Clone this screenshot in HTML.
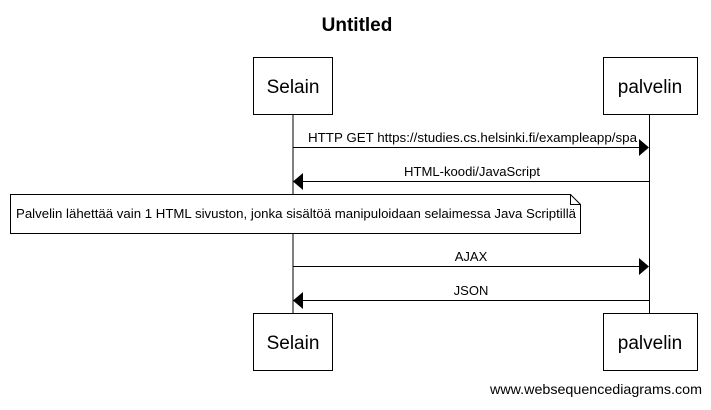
<!DOCTYPE html>
<html><head><meta charset="utf-8"><style>
body{margin:0;background:#fff;}
</style></head><body>
<svg width="711" height="405" xmlns="http://www.w3.org/2000/svg" font-family="Liberation Sans, Arial, sans-serif">
<rect width="711" height="405" fill="#fff"/>
<text x="357" y="31" text-anchor="middle" font-size="19" font-weight="bold">Untitled</text>
<line x1="293" y1="114" x2="293" y2="313" stroke="#000"/>
<line x1="649.5" y1="114" x2="649.5" y2="313" stroke="#000"/>
<rect x="253.5" y="57.5" width="79" height="57" fill="#fff" stroke="#000"/>
<text x="293" y="93" text-anchor="middle" font-size="19">Selain</text>
<rect x="603.5" y="57.5" width="94" height="57" fill="#fff" stroke="#000"/>
<text x="650" y="93" text-anchor="middle" font-size="19">palvelin</text>
<rect x="253.5" y="313.5" width="79" height="57" fill="#fff" stroke="#000"/>
<text x="293" y="349" text-anchor="middle" font-size="19">Selain</text>
<rect x="603.5" y="313.5" width="94" height="57" fill="#fff" stroke="#000"/>
<text x="650" y="349" text-anchor="middle" font-size="19">palvelin</text>
<line x1="293" y1="147.5" x2="640" y2="147.5" stroke="#000"/>
<polygon points="649,147.5 639,139 639,156" fill="#000"/>
<text x="308" y="142" font-size="13" textLength="329" lengthAdjust="spacingAndGlyphs">HTTP GET https://studies.cs.helsinki.fi/exampleapp/spa</text>
<line x1="302" y1="181.5" x2="649" y2="181.5" stroke="#000"/>
<polygon points="293,181.5 303,173 303,190" fill="#000"/>
<text x="404" y="176" font-size="13" textLength="136" lengthAdjust="spacingAndGlyphs">HTML-koodi/JavaScript</text>
<path d="M10.5 194.5 H570.5 L580.5 204.5 V233.5 H10.5 Z" fill="#fff" stroke="#000"/>
<path d="M570.5 194.5 V204.5 H580.5" fill="none" stroke="#000"/>
<text x="16" y="218" font-size="13" textLength="560" lengthAdjust="spacingAndGlyphs">Palvelin lähettää vain 1 HTML sivuston, jonka sisältöä manipuloidaan selaimessa Java Scriptillä</text>
<line x1="293" y1="266.5" x2="640" y2="266.5" stroke="#000"/>
<polygon points="649,266.5 639,258 639,275" fill="#000"/>
<text x="471" y="261" text-anchor="middle" font-size="13">AJAX</text>
<line x1="302" y1="300.5" x2="649" y2="300.5" stroke="#000"/>
<polygon points="293,300.5 303,292 303,309" fill="#000"/>
<text x="471" y="295" text-anchor="middle" font-size="13">JSON</text>
<text x="490" y="394" font-size="14" textLength="212" lengthAdjust="spacingAndGlyphs">www.websequencediagrams.com</text>
</svg>
</body></html>
